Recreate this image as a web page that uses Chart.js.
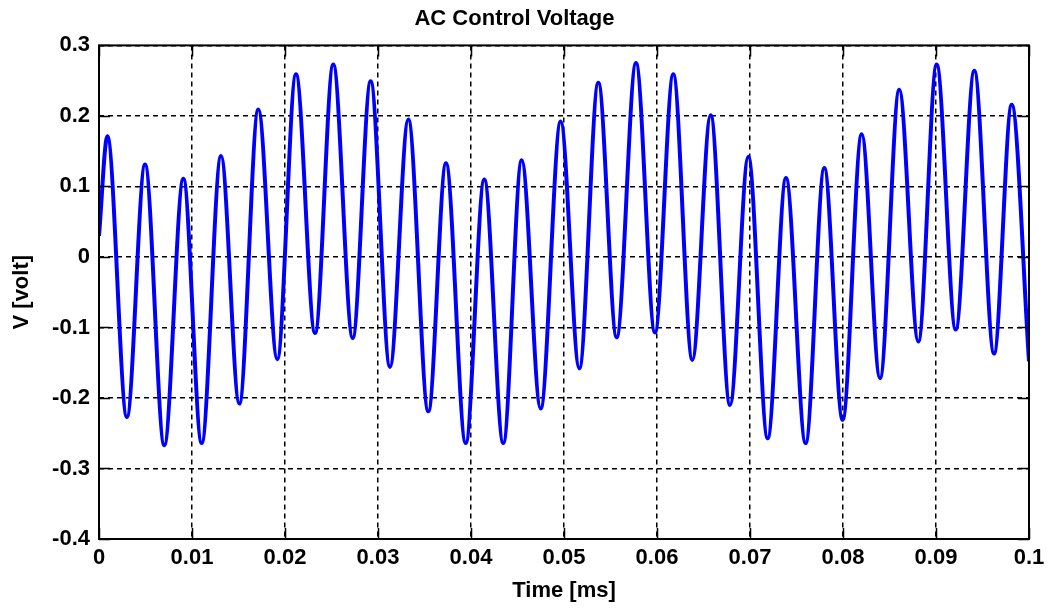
<!DOCTYPE html>
<html>
<head>
<meta charset="utf-8">
<script src="https://cdn.jsdelivr.net/npm/chart.js@4"></script>
<style>
  body { margin: 0; background: #fff; }
  #wrap { width: 1052px; height: 613px; position: relative; }
</style>
</head>
<body>
<div id="wrap"><canvas id="myChart"></canvas></div>
<script>
// time [ms] of each peak / trough
const times = [0, 0.0009, 0.0030, 0.00495, 0.00702, 0.00907, 0.01104, 0.01312, 0.01509, 0.01713,
  0.01917, 0.02118, 0.02323, 0.02519, 0.02728, 0.02921, 0.03129, 0.03326, 0.03541, 0.03731,
  0.03943, 0.04143, 0.04347, 0.04545, 0.04749, 0.04964, 0.05165, 0.05369, 0.05566, 0.05774,
  0.05978, 0.06175, 0.0638, 0.06577, 0.06785, 0.06982, 0.0719, 0.07387, 0.07598, 0.07799,
  0.07996, 0.08201, 0.08398, 0.08605, 0.0881, 0.09007, 0.09212, 0.09412, 0.09624, 0.09814, 0.1];
// voltage at those points
const volts = [0.03, 0.171, -0.227, 0.131, -0.267, 0.111, -0.264, 0.143, -0.208, 0.209,
  -0.145, 0.259, -0.108, 0.273, -0.115, 0.249, -0.156, 0.195, -0.219, 0.133,
  -0.264, 0.110, -0.264, 0.137, -0.215, 0.192, -0.158, 0.247, -0.114, 0.275,
  -0.107, 0.259, -0.146, 0.201, -0.210, 0.142, -0.257, 0.112, -0.264, 0.126,
  -0.231, 0.174, -0.172, 0.237, -0.120, 0.273, -0.103, 0.264, -0.137, 0.216, -0.148];

const xTickLabels = ['0', '0.01', '0.02', '0.03', '0.04', '0.05', '0.06', '0.07', '0.08', '0.09', '0.1'];
const yTickLabels = ['-0.4', '-0.3', '-0.2', '-0.1', '0', '0.1', '0.2', '0.3'];

const font = { family: "'Liberation Sans', Arial, sans-serif", weight: 'bold', size: 22 };

// box round the plot + small inward tick marks (matlab style)
const axesBox = {
  id: 'axesBox',
  afterDraw(chart) {
    const { ctx, chartArea: a, scales } = chart;
    const len = 11;
    ctx.save();
    ctx.strokeStyle = '#000';
    ctx.lineWidth = 1.5;
    ctx.beginPath();
    scales.x.ticks.forEach((t, i) => {
      const px = Math.round(scales.x.getPixelForTick(i)) + 0.5;
      ctx.moveTo(px, a.bottom); ctx.lineTo(px, a.bottom - len);
      ctx.moveTo(px, a.top); ctx.lineTo(px, a.top + len);
    });
    scales.y.ticks.forEach((t, i) => {
      const py = Math.round(scales.y.getPixelForTick(i)) + 0.5;
      ctx.moveTo(a.left, py); ctx.lineTo(a.left + len, py);
      ctx.moveTo(a.right, py); ctx.lineTo(a.right - len, py);
    });
    ctx.stroke();
    ctx.lineWidth = 2;
    ctx.strokeRect(a.left, a.top, a.right - a.left, a.bottom - a.top);
    ctx.restore();
  }
};

const ctx = document.getElementById('myChart').getContext('2d');
new Chart(ctx, {
  type: 'line',
  data: {
    datasets: [{
      data: times.map((t, i) => ({ x: t, y: volts[i] })),
      borderColor: '#0000ff',
      borderWidth: 4,
      pointRadius: 0,
      fill: false,
      cubicInterpolationMode: 'monotone'
    }]
  },
  options: {
    responsive: true,
    maintainAspectRatio: false,
    animation: false,
    layout: { padding: { left: 0, right: 23, top: 0, bottom: 0 } },
    plugins: {
      legend: { display: false },
      tooltip: { enabled: false },
      title: {
        display: true,
        text: 'AC Control Voltage',
        color: '#000',
        font: font,
        padding: { top: 6, bottom: 13 }
      }
    },
    scales: {
      x: {
        type: 'linear',
        min: 0,
        max: 0.1,
        ticks: {
          stepSize: 0.01,
          color: '#000',
          font: font,
          padding: 6,
          maxRotation: 0,
          callback: (v, i) => xTickLabels[i]
        },
        grid: { color: '#000', lineWidth: 1.5, drawTicks: false },
        border: { display: false, dash: [5, 4] },
        title: { display: true, text: 'Time [ms]', color: '#000', font: font, padding: { top: 9, bottom: 9 } },
        afterFit: s => { s.height = 74; }
      },
      y: {
        min: -0.4,
        max: 0.3,
        ticks: {
          stepSize: 0.1,
          color: '#000',
          font: font,
          padding: 9,
          callback: (v, i) => yTickLabels[i]
        },
        grid: { color: '#000', lineWidth: 1.5, drawTicks: false },
        border: { display: false, dash: [5, 4] },
        title: { display: true, text: 'V [volt]', color: '#000', font: font, padding: { top: 9, bottom: 9 } },
        afterFit: s => { s.width = 99; }
      }
    }
  },
  plugins: [axesBox]
});
</script>
</body>
</html>
